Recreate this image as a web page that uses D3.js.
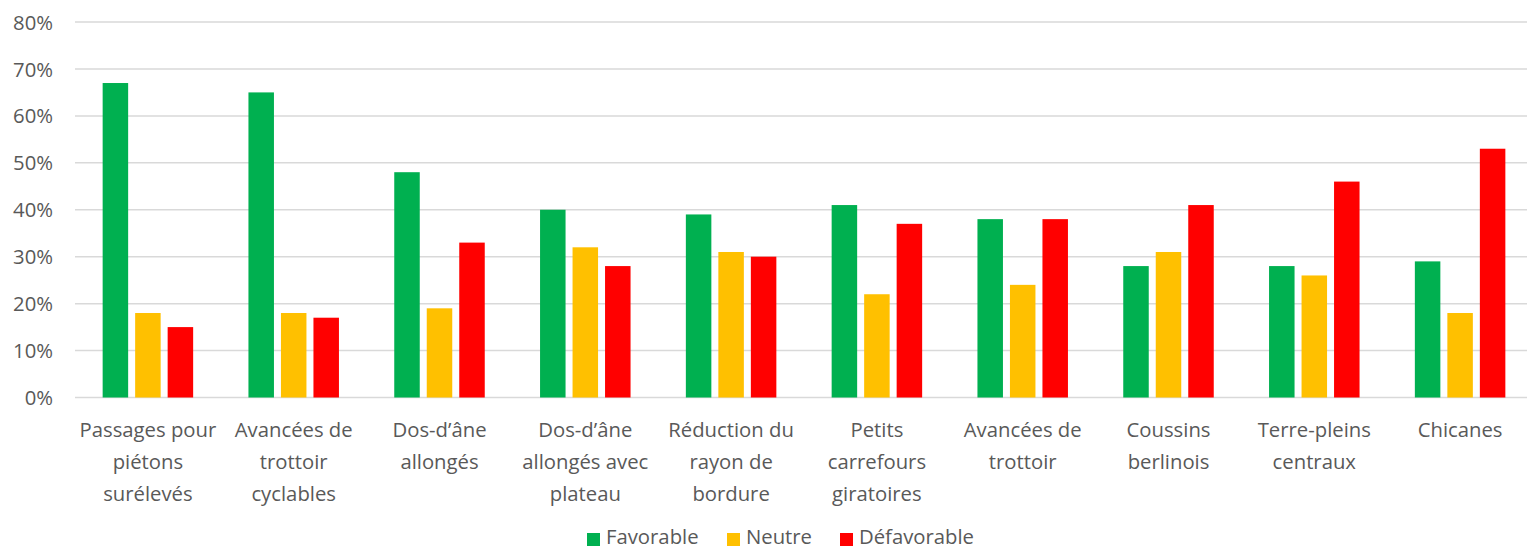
<!DOCTYPE html>
<html><head><meta charset="utf-8">
<script src="https://cdn.jsdelivr.net/npm/d3@7"></script>
<style>
html,body{margin:0;padding:0;background:#fff;}
svg{display:block;font-family:"Open Sans","Noto Sans",sans-serif;}
</style></head>
<body>
<svg id="chart" width="1527" height="550"></svg>
<script>
const categories = [
  ["Passages pour","piétons","surélevés"],
  ["Avancées de","trottoir","cyclables"],
  ["Dos-d’âne","allongés"],
  ["Dos-d’âne","allongés avec","plateau"],
  ["Réduction du","rayon de","bordure"],
  ["Petits","carrefours","giratoires"],
  ["Avancées de","trottoir"],
  ["Coussins","berlinois"],
  ["Terre-pleins","centraux"],
  ["Chicanes"]
];
const seriesNames = ["Favorable","Neutre","Défavorable"];
const favorable   = [0.67,0.65,0.48,0.40,0.39,0.41,0.38,0.28,0.28,0.29];
const neutre      = [0.18,0.18,0.19,0.32,0.31,0.22,0.24,0.31,0.26,0.18];
const defavorable = [0.15,0.17,0.33,0.28,0.30,0.37,0.38,0.41,0.46,0.53];
const yTicks = [0,0.1,0.2,0.3,0.4,0.5,0.6,0.7,0.8];
const colors = ["#00B050","#FFC000","#FF0000"];

const seriesValues = [favorable, neutre, defavorable];
const svg = d3.select("#chart");
const textColor = "#595959";
const fs = "20.3px";
const ff = '"Open Sans","Noto Sans",sans-serif';

const catIdx = categories.map((d,i)=>i);
const x0 = d3.scaleBand().domain(catIdx).range([75,1533]).padding(0);
const bw = x0.bandwidth();
const x1 = d3.scaleBand().domain(seriesNames)
  .range([bw/2-48.75, bw/2+48.75]).paddingInner(7/32.5).paddingOuter(3.5/32.5);
const y = d3.scaleLinear().domain([0,0.8]).range([397.5,22]);

// gridlines
svg.append("g").selectAll("line").data(yTicks).join("line")
  .attr("x1",75).attr("x2",1533)
  .attr("y1",d=>y(d)).attr("y2",d=>y(d))
  .attr("stroke","#D9D9D9").attr("stroke-width",1.5);

// y axis labels
const yAxis = d3.axisLeft(y).tickValues(yTicks).tickFormat(d3.format(".0%")).tickSize(0).tickPadding(0);
const ya = svg.append("g").attr("transform","translate(53,0)").call(yAxis);
ya.select(".domain").remove();
ya.selectAll("text").attr("fill",textColor).style("font-size",fs)
  .style("font-family",ff).attr("dy","0.35em");

// bars
const groups = svg.append("g").selectAll("g").data(catIdx).join("g")
  .attr("transform",i=>`translate(${x0(i)},0)`);
groups.selectAll("rect").data(i=>seriesNames.map((s,k)=>({s,k,v:seriesValues[k][i]})))
  .join("rect")
  .attr("x",d=>x1(d.s)).attr("width",x1.bandwidth())
  .attr("y",d=>y(d.v)).attr("height",d=>y(0)-y(d.v))
  .attr("fill",d=>colors[d.k]);

// x axis labels
const xa = svg.append("g");
catIdx.forEach(i=>{
  const t = xa.append("text").attr("text-anchor","middle")
    .attr("fill",textColor).style("font-size",fs);
  categories[i].forEach((line,j)=>{
    t.append("tspan").attr("x",x0(i)+bw/2).attr("y",437+j*32).text(line);
  });
});

// legend
const legendX = [587,727,840];
const lg = svg.append("g");
seriesNames.forEach((s,k)=>{
  lg.append("rect").attr("x",legendX[k]).attr("y",533).attr("width",13).attr("height",13).attr("fill",colors[k]);
  lg.append("text").attr("x",legendX[k]+19).attr("y",544).attr("fill",textColor)
    .style("font-size",fs).text(s);
});
</script>
</body></html>
